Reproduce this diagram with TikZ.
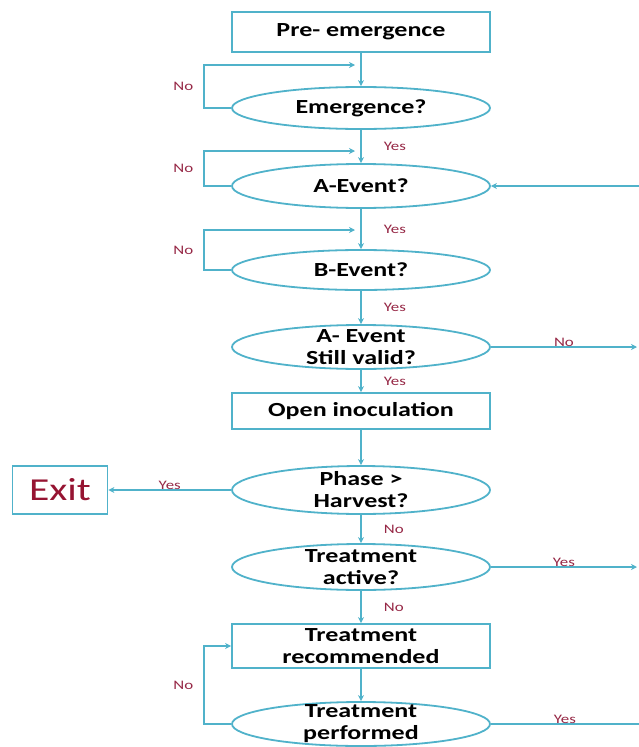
\documentclass[tikz,border=0pt]{standalone}
\usepackage{fontspec}
\setmainfont{Carlito}[FakeStretch=1.3]
\usetikzlibrary{arrows.meta, shapes.geometric, positioning}
\definecolor{flowline}{RGB}{80,178,202}
\definecolor{answer}{RGB}{150,40,70}
\definecolor{exitred}{RGB}{150,20,50}
\tikzset{
    flow/.style={-{Stealth[length=6pt,width=6pt]}, flowline, line width=1.8pt},
    plain/.style={flowline, line width=1.8pt},
    stepbox/.style={draw=flowline, line width=1.8pt, rectangle, minimum width=258pt, inner sep=0pt, align=center, font=\fontsize{20}{22}\selectfont\bfseries},
    query/.style={draw=flowline, line width=1.8pt, ellipse, minimum width=258pt, minimum height=44pt, inner xsep=0pt, inner ysep=-6pt, align=center, font=\fontsize{20}{22}\selectfont\bfseries},
    lbl/.style={text=answer, font=\fontsize{13}{15}\selectfont, inner sep=2pt}
}
\begin{document}
\begin{tikzpicture}[x=1pt, y=-1pt]
            \useasboundingbox (0,0) rectangle (639,747);
            % main column
            \node[stepbox, minimum height=40pt] (pre) at (361,32) {Pre- emergence};
            \node[query, minimum height=42pt] (emerg) at (361,108) {Emergence?};
            \node[query] (aev) at (361,186) {A-Event?};
            \node[query, minimum height=40pt] (bev) at (361,270) {B-Event?};
            \node[query] (valid) at (361,347) {A- Event\\Still valid?};
            \node[stepbox, minimum height=36pt] (openi) at (361,411) {Open inoculation};
            \node[query, minimum height=48pt] (phase) at (361,490) {Phase >\\Harvest?};
            \node[query, minimum height=46pt] (tact) at (361,567) {Treatment\\active?};
            \node[stepbox, minimum height=44pt] (trec) at (361,646) {Treatment\\recommended};
            \node[query] (tperf) at (361,724) {Treatment\\performed};
            \node[draw=flowline, line width=1.8pt, minimum width=95pt, minimum height=48pt, text=exitred, font=\fontsize{32}{34}\selectfont] (exit) at (60,490) {Exit};
            % loop ends and edge ends
            \coordinate (in1) at (355,65);
            \coordinate (in2) at (355,151);
            \coordinate (in3) at (355,230);
            \coordinate (back) at (639,186);
            \coordinate (out1) at (637,347);
            \coordinate (out2) at (637,567);
            \coordinate (out3) at (639,724);
            % downward flow
            \draw[flow] (pre) -- (emerg);
            \draw[flow] (emerg) -- node[lbl, right=20pt]{Yes} (aev);
            \draw[flow] (aev) -- node[lbl, right=20pt]{Yes} (bev);
            \draw[flow] (bev) -- node[lbl, right=20pt]{Yes} (valid);
            \draw[flow] (valid) -- node[lbl, right=20pt]{Yes} (openi);
            \draw[flow] (openi) -- (phase);
            \draw[flow] (phase) -- node[lbl, right=20pt]{No} (tact);
            \draw[flow] (tact) -- node[lbl, right=20pt]{No} (trec);
            \draw[flow] (trec) -- (tperf);
            % waiting loops
            \draw[flow] (emerg.west) -- ++(-27,0) |- node[lbl, left=8pt, pos=0.25]{No} (in1);
            \draw[flow] (aev.west) -- ++(-27,0) |- node[lbl, left=8pt, pos=0.25]{No} (in2);
            \draw[flow] (bev.west) -- ++(-27,0) |- node[lbl, left=8pt, pos=0.25]{No} (in3);
            \draw[flow] (tperf.west) -- ++(-27,0) |- node[lbl, left=8pt, pos=0.25]{No} (trec.west);
            % side branches
            \draw[flow] (back) -- (aev.east);
            \draw[flow] (valid.east) -- node[lbl, above=-2pt]{No} (out1);
            \draw[flow] (phase.west) -- node[lbl, above=-2pt]{Yes} (exit.east);
            \draw[flow] (tact.east) -- node[lbl, above=-2pt]{Yes} (out2);
            \draw[plain] (tperf.east) -- node[lbl, above=-2pt]{Yes} (out3);
        \end{tikzpicture}
\end{document}
